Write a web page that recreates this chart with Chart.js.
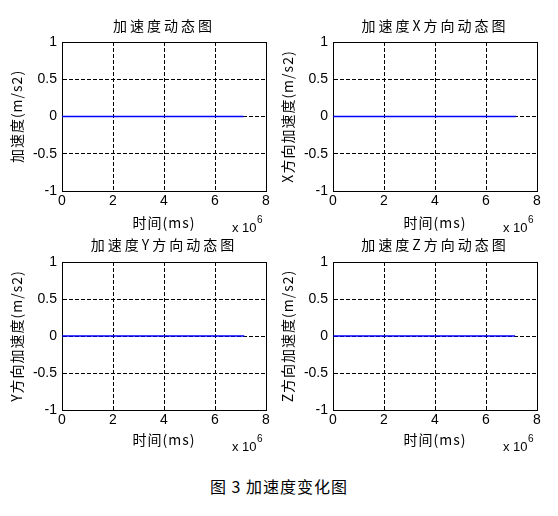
<!DOCTYPE html>
<html>
<head>
<meta charset="utf-8">
<script src="https://cdn.jsdelivr.net/npm/chart.js@4/dist/chart.umd.min.js"></script>
<style>
  html, body { margin: 0; padding: 0; background: #fff; }
  #wrap { position: relative; width: 558px; height: 516px; background: #fff; overflow: hidden; }
  canvas { position: absolute; }
  #caption { position: absolute; left: 0; width: 558px; top: 475px; text-align: center;
    font: 16px "Noto Sans CJK SC", sans-serif; letter-spacing: 1px; color: #000; line-height: 22px; }
</style>
</head>
<body>
<div id="wrap">
  <canvas id="c0" width="279" height="240"></canvas>
  <canvas id="c1" width="279" height="240"></canvas>
  <canvas id="c2" width="279" height="240"></canvas>
  <canvas id="c3" width="279" height="240"></canvas>
  <div id="caption">图 3 加速度变化图</div>
</div>
<script>
// ---- data ----
const xTickLabels = ['0', '2', '4', '6', '8'];
const yTickLabels = ['-1', '-0.5', '0', '0.5', '1'];
const xTickValues = [0, 2000000, 4000000, 6000000, 8000000];
const yTickValues = [-1, -0.5, 0, 0.5, 1];
const exponentLabel = 'x 10';
const exponentPower = '6';

const titles = ['加速度动态图', '加速度X方向动态图', '加速度Y方向动态图', '加速度Z方向动态图'];
const yTitles = ['加速度(m/s2)', 'X方向加速度(m/s2)', 'Y方向加速度(m/s2)', 'Z方向加速度(m/s2)'];
const xTitle = '时间(ms)';

const timeAll = [0, 7120000];
const accAll = [0, 0];
const timeX = [0, 7160000];
const accX = [0, 0];
const timeY = [0, 7150000];
const accY = [0, 0];
const timeZ = [0, 7140000];
const accZ = [0, 0];

const seriesTimes = [timeAll, timeX, timeY, timeZ];
const seriesValues = [accAll, accX, accY, accZ];

// ---- layout (absolute page coords of each subplot) ----
const layoutSpec = [
  { cx: 0,   cy: 0,   left: 62,  right: 266, top: 42,  bottom: 191, titleY: 26,  xTitleY: 222.5 },
  { cx: 271, cy: 0,   left: 333, right: 537, top: 42,  bottom: 191, titleY: 26,  xTitleY: 222.5 },
  { cx: 0,   cy: 220, left: 62,  right: 266, top: 262, bottom: 410, titleY: 245, xTitleY: 439.5 },
  { cx: 271, cy: 220, left: 333, right: 537, top: 262, bottom: 410, titleY: 245, xTitleY: 439.5 }
];
const W = 279, H = 240, HX = 40;

Chart.defaults.font.family = '"Liberation Sans", Arial, sans-serif';
Chart.defaults.color = '#000';

function withSpacing(ctx, sp, fn) {
  const prev = ctx.letterSpacing;
  ctx.letterSpacing = sp;
  try { return fn(); } finally { ctx.letterSpacing = prev || '0px'; }
}

const spacingPlugin = {
  id: 'spacing',
  beforeDraw(chart) {
    const ctx = chart.ctx;
    const tb = chart.titleBlock;
    if (tb && !tb.__wrapped) {
      const orig = tb.draw;
      tb.draw = function (...a) { return withSpacing(ctx, '3px', () => orig.apply(this, a)); };
      tb.__wrapped = true;
    }
    Object.values(chart.scales).forEach(s => {
      if (!s.__wrapped) {
        const orig = s.drawTitle;
        s.drawTitle = function (...a) { return withSpacing(ctx, '1px', () => orig.apply(this, a)); };
        s.__wrapped = true;
      }
    });
  }
};

const exponentPlugin = {
  id: 'exponent',
  afterDraw(chart) {
    const ctx = chart.ctx;
    const a = chart.chartArea;
    ctx.save();
    ctx.fillStyle = '#000';
    ctx.textAlign = 'left';
    ctx.textBaseline = 'middle';
    ctx.font = '13px "Liberation Sans", Arial, sans-serif';
    const x0 = a.right - 34;
    ctx.fillText(exponentLabel, x0, a.bottom + 37);
    const w = ctx.measureText(exponentLabel).width;
    ctx.font = '10px "Liberation Sans", Arial, sans-serif';
    ctx.fillText(exponentPower, x0 + w + 0.5, a.bottom + 29);
    ctx.restore();
  }
};

layoutSpec.forEach((L, i) => {
  const cv = document.getElementById('c' + i);
  cv.style.left = L.cx + 'px';
  cv.style.top = L.cy + 'px';
  const relTop = L.top - L.cy, relBottom = L.bottom - L.cy;
  const padTop = (L.titleY - L.cy) - 10;
  const titlePadBottom = relTop - padTop - 20;
  const padBottom = H - relBottom - HX;
  const xTitlePadBottom = (L.bottom + HX - 8) - L.xTitleY;
  const yWidth = L.left - L.cx;
  const padRight = W - (L.right - L.cx);

  const points = seriesTimes[i].map((t, k) => ({ x: t, y: seriesValues[i][k] }));

  new Chart(cv, {
    type: 'line',
    data: {
      datasets: [{
        data: points,
        borderColor: '#0000ff',
        borderWidth: 1.3,
        pointRadius: 0,
        fill: false,
        tension: 0
      }]
    },
    options: {
      responsive: false,
      animation: false,
      layout: { padding: { left: 0, top: padTop, right: padRight, bottom: padBottom } },
      plugins: {
        legend: { display: false },
        tooltip: { enabled: false },
        title: {
          display: true,
          text: titles[i],
          fullSize: false,
          font: { family: '"Noto Sans CJK SC", sans-serif', size: 14, weight: 'normal', lineHeight: '20px' },
          color: '#000',
          padding: { top: 0, bottom: titlePadBottom }
        }
      },
      scales: {
        x: {
          type: 'linear',
          position: 'bottom',
          min: 0, max: 8000000,
          afterBuildTicks(scale) { scale.ticks = xTickValues.map(v => ({ value: v })); },
          afterFit(scale) { scale.height = HX; },
          ticks: {
            padding: 2,
            maxRotation: 0,
            autoSkip: false,
            font: { size: 14 },
            color: '#000',
            callback: (v, idx) => xTickLabels[idx]
          },
          grid: { display: true, color: '#000', lineWidth: 1, drawTicks: false },
          border: { display: true, color: '#000', width: 1, dash: [4, 2] },
          title: {
            display: true, text: xTitle, color: '#000',
            font: { family: '"Noto Sans CJK SC", sans-serif', size: 14, lineHeight: '16px' },
            padding: { top: 0, bottom: xTitlePadBottom }
          }
        },
        y: {
          type: 'linear',
          position: 'left',
          min: -1, max: 1,
          afterBuildTicks(scale) { scale.ticks = yTickValues.map(v => ({ value: v })); },
          afterFit(scale) { scale.width = yWidth; },
          ticks: {
            padding: 5,
            autoSkip: false,
            font: { size: 14 },
            color: '#000',
            callback: (v, idx) => yTickLabels[idx]
          },
          grid: { display: true, color: '#000', lineWidth: 1, drawTicks: false },
          border: { display: true, color: '#000', width: 1, dash: [4, 2] },
          title: {
            display: true, text: yTitles[i], color: '#000',
            font: { family: '"Noto Sans CJK SC", sans-serif', size: 14, lineHeight: '16px' },
            padding: { top: 9, bottom: 0 }
          }
        },
        x2: {
          type: 'linear', position: 'top', display: true,
          afterFit(scale) { scale.height = 0; },
          ticks: { display: false },
          grid: { display: false, drawTicks: false },
          border: { display: true, color: '#000', width: 1 }
        },
        y2: {
          type: 'linear', position: 'right', display: true,
          afterFit(scale) { scale.width = 0; },
          ticks: { display: false },
          grid: { display: false, drawTicks: false },
          border: { display: true, color: '#000', width: 1 }
        }
      }
    },
    plugins: [spacingPlugin, exponentPlugin]
  });
});
</script>
</body>
</html>
